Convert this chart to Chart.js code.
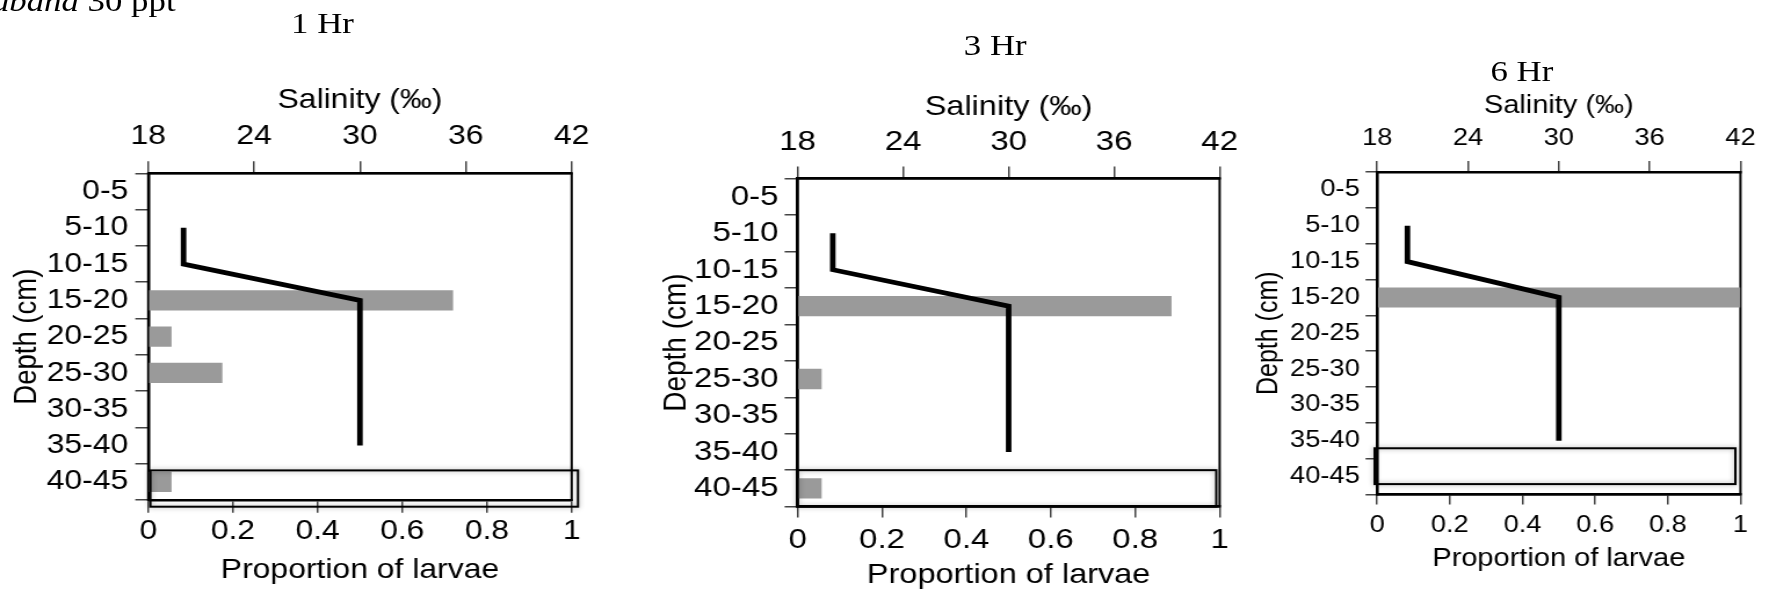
<!DOCTYPE html>
<html>
<head>
<meta charset="utf-8">
<script src="https://cdn.jsdelivr.net/npm/chart.js@4.4.1/dist/chart.umd.min.js"></script>
<style>
html, body { margin: 0; padding: 0; background: #fff; overflow: hidden; }
/* the source figure is stretched sideways, so the whole drawing is too */
#wrap { position: relative; width: 1529px; height: 592px; transform: scaleX(1.16); transform-origin: 0 0; }
#wrap canvas { position: absolute; top: 0; }
.hr { position: absolute; font-family: 'Liberation Serif', 'Times New Roman', serif; font-size: 30px; line-height: 30px; color: #000; transform: translate(-50%, -50%); white-space: nowrap; }
.cap { position: absolute; left: -7px; top: -14px; font-family: 'Liberation Serif', 'Times New Roman', serif; font-size: 30px; line-height: 30px; color: #000; white-space: nowrap; }
</style>
</head>
<body>
<div id="wrap">
  <div class="cap"><i>abana</i> 30 ppt</div>
  <div class="hr" style="left:278px; top:23px;">1 Hr</div>
  <div class="hr" style="left:858px; top:45px;">3 Hr</div>
  <div class="hr" style="left:1312px; top:71px;">6 Hr</div>
  <canvas id="c1" width="530" height="592" style="left:0px; width:530px; height:592px;"></canvas>
  <canvas id="c2" width="543" height="592" style="left:534.5px; width:543px; height:592px;"></canvas>
  <canvas id="c3" width="450" height="592" style="left:1077.6px; width:450px; height:592px;"></canvas>
</div>
<script>
// 資料
const depthLabels = ['0-5', '5-10', '10-15', '15-20', '20-25', '25-30', '30-35', '35-40', '40-45'];
const salinityTicks = [18, 24, 30, 36, 42];
const proportionTicks = [0, 0.2, 0.4, 0.6, 0.8, 1];

// 鹽度剖面 (上方座標)
const salinity1h = [null, 20, 20, 30, 30, 30, 30, 30, null];
const salinity3h = [null, 20, 20, 30, 30, 30, 30, 30, null];
const salinity6h = [null, 20, 20, 30, 30, 30, 30, 30, null];

// 幼體比例 (下方座標)
const larvae1h = [0, 0, 0, 0.72, 0.055, 0.175, 0, 0, 0.055];
const larvae3h = [0, 0, 0, 0.886, 0, 0.057, 0, 0, 0.057];
const larvae6h = [0, 0, 0, 1, 0, 0, 0, 0, 0];

Chart.defaults.font.family = "'Liberation Sans', Arial, Helvetica, sans-serif";
Chart.defaults.color = '#000';

// 繪圖區外框
const framePlugin = {
  id: 'frame',
  beforeDatasetsDraw(chart) {
    const a = chart.chartArea;
    const ctx = chart.ctx;
    ctx.save();
    ctx.strokeStyle = '#000';
    ctx.lineWidth = 2;
    ctx.strokeRect(a.left, a.top, a.right - a.left, a.bottom - a.top);
    ctx.restore();
  }
};

// 標示 40-45 那一列的方框
const boxPlugin = {
  id: 'rowBox',
  afterDatasetsDraw(chart, args, opts) {
    if (!opts.row) return;
    const xs = chart.scales.x;
    const ys = chart.scales.y;
    const i = depthLabels.indexOf(opts.row);
    const half = (ys.getPixelForValue(1) - ys.getPixelForValue(0)) / 2;
    const yc = ys.getPixelForValue(i) + opts.shift;
    const x0 = xs.getPixelForValue(opts.from);
    const x1 = xs.getPixelForValue(opts.to);
    const ctx = chart.ctx;
    ctx.save();
    ctx.shadowColor = 'rgba(0,0,0,0.35)';
    ctx.shadowBlur = 5;
    ctx.lineWidth = 2;
    ctx.strokeStyle = '#000';
    ctx.strokeRect(x0, yc - half, x1 - x0, half * 2);
    ctx.restore();
  }
};

function makePanel(id, larvae, salinity, p) {
  var ctx = document.getElementById(id).getContext('2d');
  return new Chart(ctx, {
    type: 'bar',
    data: {
      labels: depthLabels,
      datasets: [{
        type: 'line',
        label: 'Salinity',
        data: salinity,
        indexAxis: 'y',
        xAxisID: 'x2',
        yAxisID: 'y',
        borderColor: '#000',
        borderWidth: 4.8,
        borderJoinStyle: 'miter',
        borderCapStyle: 'butt',
        pointRadius: 0,
        fill: false,
        tension: 0
      }, {
        type: 'bar',
        label: 'Proportion of larvae',
        data: larvae,
        xAxisID: 'x',
        yAxisID: 'y',
        backgroundColor: '#9a9a9a',
        borderWidth: 0,
        barPercentage: 0.56,
        categoryPercentage: 1
      }]
    },
    options: {
      indexAxis: 'y',
      responsive: false,
      animation: false,
      layout: { padding: { left: 0, top: 0, bottom: 0, right: p.width - p.right } },
      plugins: {
        legend: { display: false },
        tooltip: { enabled: false },
        rowBox: p.box
      },
      scales: {
        y: {
          type: 'category',
          position: 'left',
          offset: true,
          grid: { offset: true, drawOnChartArea: false, tickLength: p.tickY, color: '#444', lineWidth: 1.5 },
          border: { display: true, color: '#000', width: 2.5 },
          ticks: { font: { size: p.tickFont }, padding: p.padY, color: '#000', autoSkip: false },
          title: { display: true, text: 'Depth (cm)', font: { size: p.titleFont }, color: '#000', padding: { top: p.titleY, bottom: 0 } },
          afterFit: function(s) { s.width = p.left; }
        },
        x: {
          type: 'linear',
          position: 'bottom',
          min: 0,
          max: 1,
          afterBuildTicks: function(s) { s.ticks = proportionTicks.map(v => ({ value: v })); },
          grid: { drawOnChartArea: false, tickLength: p.tickBottom, color: '#444', lineWidth: 1.5 },
          border: { display: true, color: '#000', width: 2.5 },
          ticks: { font: { size: p.tickFont }, padding: p.padBottom, color: '#000', maxRotation: 0, autoSkip: false, callback: v => String(v) },
          title: { display: true, text: 'Proportion of larvae', font: { size: p.titleFont }, color: '#000', padding: { top: 0, bottom: p.titleBottom } },
          afterFit: function(s) { s.height = 592 - p.bottom; }
        },
        x2: {
          type: 'linear',
          position: 'top',
          min: 18,
          max: 42,
          afterBuildTicks: function(s) { s.ticks = salinityTicks.map(v => ({ value: v })); },
          grid: { drawOnChartArea: false, tickLength: p.tickTop, color: '#444', lineWidth: 1.5 },
          border: { display: true, color: '#000', width: 2.5 },
          ticks: { font: { size: p.tickFont }, padding: p.padTop, color: '#000', maxRotation: 0, autoSkip: false, callback: v => String(v) },
          title: { display: true, text: 'Salinity (‰)', font: { size: p.titleFont }, color: '#000', padding: { top: p.titleTop, bottom: 0 } },
          afterFit: function(s) { s.height = p.top; }
        }
      }
    },
    plugins: [framePlugin, boxPlugin]
  });
}

makePanel('c1', larvae1h, salinity1h, {
  width: 530, left: 127.8, right: 492.8, top: 173.3, bottom: 500,
  tickFont: 27.5, titleFont: 27.5, tickY: 11.2, tickTop: 12, tickBottom: 12.7,
  padY: 6, padTop: 8, padBottom: 2, titleY: 7, titleTop: 84, titleBottom: 5,
  box: { row: '40-45', from: 0.005, to: 1.015, shift: 6.7 }
});

makePanel('c2', larvae3h, salinity3h, {
  width: 543, left: 152.6, right: 516.4, top: 178.6, bottom: 506.6,
  tickFont: 28.5, titleFont: 28, tickY: 11.2, tickTop: 12, tickBottom: 11,
  padY: 5.2, padTop: 7.5, padBottom: 5, titleY: 31, titleTop: 90, titleBottom: 0,
  box: { row: '40-45', from: 0, to: 0.992, shift: 0 }
});

makePanel('c3', larvae6h, salinity6h, {
  width: 450, left: 109.2, right: 422.4, top: 172, bottom: 494.5,
  tickFont: 23.5, titleFont: 25, tickY: 10, tickTop: 11, tickBottom: 10,
  padY: 5, padTop: 8.2, padBottom: 6.5, titleY: 1.5, titleTop: 91, titleBottom: 17.5,
  box: { row: '40-45', from: -0.007, to: 0.986, shift: -10.4 }
});
</script>
</body>
</html>
